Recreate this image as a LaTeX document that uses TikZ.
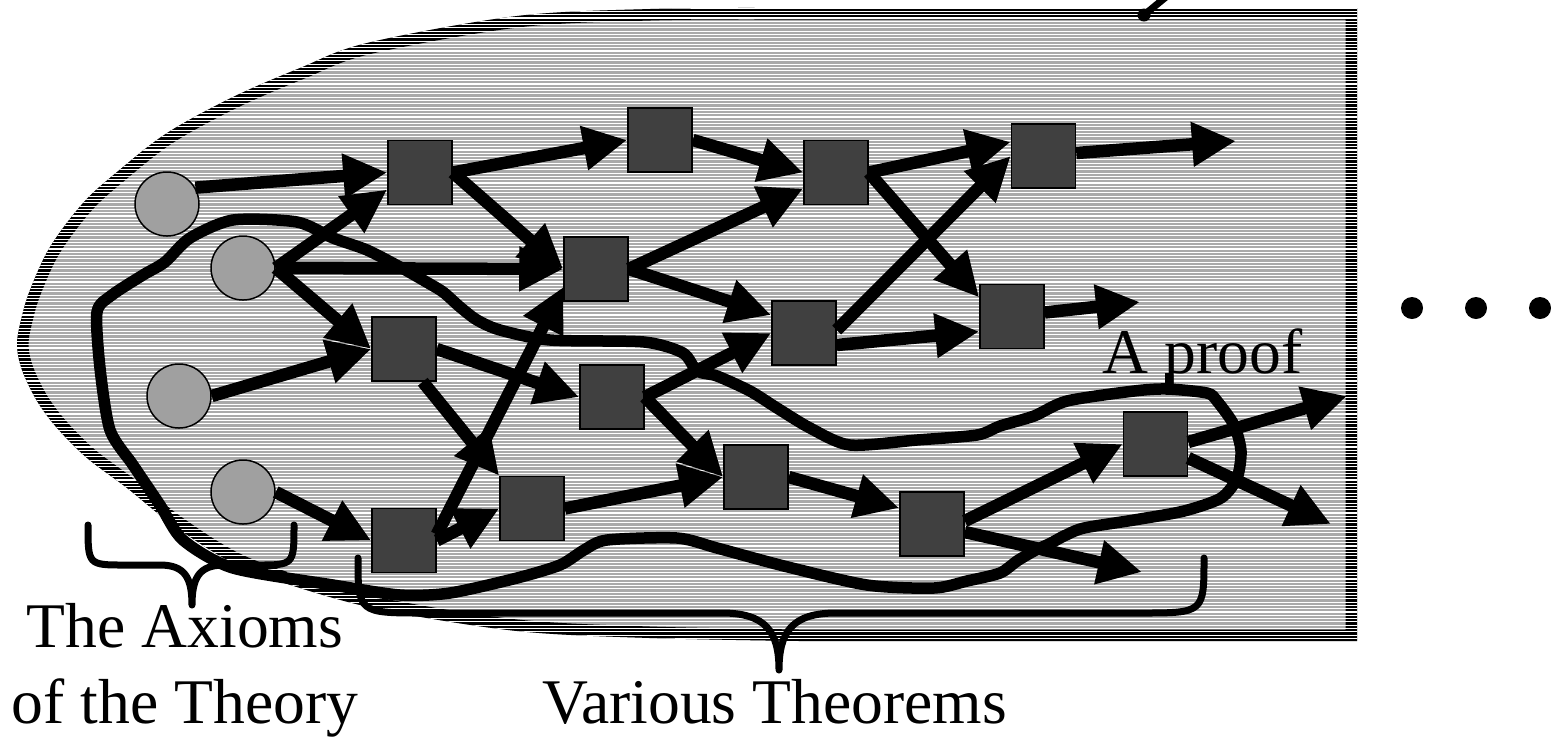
\documentclass[tikz,border=0pt]{standalone}
\usepackage{fontspec}
\setmainfont{Liberation Serif}
\usetikzlibrary{arrows.meta,calc}
\definecolor{bggray}{RGB}{170,170,170}
\definecolor{axgray}{RGB}{160,160,160}
\definecolor{thmgray}{RGB}{64,64,64}
\begin{document}
\begin{tikzpicture}[x=0.5pt,y=-0.5pt,
  axnode/.style={circle,draw=black,line width=0.75pt,fill=axgray,minimum size=32pt,inner sep=0pt},
  thmnode/.style={rectangle,draw=black,line width=0.75pt,fill=thmgray,minimum size=32pt,inner sep=0pt},
  arr/.style={line width=6.25pt,-{Triangle[length=22pt,width=21pt]}},
  proofline/.style={line width=5.75pt,line join=round},
  bracel/.style={line width=3.5pt,line cap=round,line join=round},
  lbl/.style={font=\fontsize{31.8}{38}\selectfont,inner sep=0pt,anchor=base},
  dotn/.style={circle,fill=black,minimum size=11pt,inner sep=0pt}]
\useasboundingbox (0,0) rectangle (1551,736);

% background region with striped border
\begin{scope}
\clip (1357,8) -- plot[smooth,tension=0.55] coordinates {(760,8) (650,9) (517,16) (367,43) (300,68) (233,97) (167,133) (117,172) (83,203) (50,247) (30,290) (21,320) (17,345) (22,370) (37,401) (57,428) (87,458) (127,488) (173,525) (233,563) (300,588) (383,610) (517,631) (650,638) (800,641)} -- (1357,641) -- cycle;
\fill[bggray] (0,0) rectangle (1400,700);
\draw[line width=11.5pt] (1357,8) -- plot[smooth,tension=0.55] coordinates {(760,8) (650,9) (517,16) (367,43) (300,68) (233,97) (167,133) (117,172) (83,203) (50,247) (30,290) (21,320) (17,345) (22,370) (37,401) (57,428) (87,458) (127,488) (173,525) (233,563) (300,588) (383,610) (517,631) (650,638) (800,641)} -- (1357,641) -- cycle;
\foreach \yy in {1.5,4.8,...,648} \draw[white,line width=0.55pt] (0,\yy) -- (1400,\yy);
\end{scope}

% pointer at the top
\coordinate (ptrA) at (1144,15);
\coordinate (ptrB) at (1172,-8);
\draw[line width=3.5pt] (ptrA) -- (ptrB);
\fill (ptrA) circle[radius=6.5];

% axioms
\node[axnode] (C1) at (167,204) {};
\node[axnode] (C2) at (243,268) {};
\node[axnode] (C3) at (179,396) {};
\node[axnode] (C4) at (243,492) {};

% theorems
\node[thmnode] (S1) at (420,172.5) {};
\node[thmnode] (S2) at (596,269) {};
\node[thmnode] (S3) at (404,349) {};
\node[thmnode] (S4) at (612,397) {};
\node[thmnode] (S5) at (660,140) {};
\node[thmnode] (S6) at (836,172.5) {};
\node[thmnode] (S7) at (1043.5,156) {};
\node[thmnode] (S8) at (804,333) {};
\node[thmnode] (S9) at (1012,316.5) {};
\node[thmnode] (S10) at (532,508.5) {};
\node[thmnode] (S11) at (404,540.5) {};
\node[thmnode] (S12) at (756,477) {};
\node[thmnode] (S13) at (932,524) {};
\node[thmnode] (S14) at (1155.5,444) {};

% free ends
\coordinate (F1) at (1236,141);
\coordinate (F2) at (1140,302);
\coordinate (F3) at (1142,572);
\coordinate (F4) at (1347,396);
\coordinate (F5) at (1331,524);

% arrows
\draw[arr] (C1.30) -- (S1.west);
\draw[arr] (C2.east) -- ($(S1.west)+(0,17)$);
\draw[arr] (C2.east) -- (S2.west);
\draw[arr] (C2.east) -- (S3.west);
\draw[arr] (C3.east) -- (S3.west);
\draw[arr] (C4.east) -- (S11.west);
\draw[arr] (S1.east) -- (S5.west);
\draw[arr] (S1.east) -- (S2.west);
\draw[arr] (S5.east) -- (S6.west);
\draw[arr] (S2.east) -- ($(S6.west)+(0,16)$);
\draw[arr] (S2.east) -- ($(S8.west)+(0,-18)$);
\draw[arr] (S6.east) -- ($(S7.west)+(0,-14)$);
\draw[arr] (S6.east) -- ($(S9.west)+(0,-19)$);
\draw[arr] ($(S8.east)+(0,-3)$) -- (S7.west);
\draw[arr] ($(S8.east)+(0,12)$) -- ($(S9.west)+(0,15)$);
\draw[arr] ($(S7.east)+(0,-3)$) -- (F1);
\draw[arr] ($(S9.east)+(0,-4)$) -- (F2);
\draw[arr] (S3.east) -- (S4.west);
\draw[arr] ($(S3.south east)+(-14,0)$) -- (S10.north west);
\draw[arr] ($(S11.east)+(0,-6)$) -- ($(S2.west)+(0,18)$);
\draw[arr] (S11.east) -- (S10.west);
\draw[arr] (S4.east) -- (S8.west);
\draw[arr] (S4.east) -- (S12.west);
\draw[arr] (S10.east) -- (S12.west);
\draw[arr] (S12.east) -- ($(S13.west)+(0,-16)$);
\draw[arr] ($(S13.east)+(0,-3)$) -- (S14.west);
\draw[arr] ($(S13.east)+(0,8)$) -- (F3);
\draw[arr] ($(S14.east)+(0,-2)$) -- (F4);
\draw[arr] ($(S14.east)+(0,14)$) -- (F5);

% the proof loop
\draw[proofline] plot[smooth cycle,tension=0.45] coordinates {(190,238) (233,220) (297,222) (333,238) (367,250) (400,267) (423,280) (443,292) (460,307) (477,320) (500,330) (550,340) (644,342) (683,353) (697,371) (717,376) (750,391) (777,408) (810,428) (850,445) (917,440) (977,435) (1000,426) (1034,416) (1067,401) (1134,391) (1167,389) (1207,393) (1217,401) (1234,425) (1241,451) (1237,478) (1221,498) (1184,511) (1134,520) (1084,528) (1064,536) (1051,543) (1034,551) (1017,561) (1000,573) (967,581) (934,588) (867,585) (784,566) (717,548) (677,538) (607,540) (584,550) (560,565) (517,578) (450,593) (400,595) (333,585) (233,568) (183,540) (160,505) (133,465) (110,430) (100,368) (97,312) (112,295) (143,275) (165,262)};

% label of the proof
\node[lbl] (proof) at (1202.5,373) {A proof};
\coordinate (pfoot) at (1167,373);
\coordinate (pcurve) at (1167,390);
\draw[line width=2.5pt] (pfoot) -- (pcurve);

% braces
\draw[bracel] (88,525) .. controls (88,565) .. (125,565) -- (160,565) .. controls (185,565) and (192,578) .. (192,605) .. controls (192,578) and (199,565) .. (224,565) -- (257,565) .. controls (294,565) .. (294,525);
\draw[bracel] (358,558) .. controls (358,613) .. (425,613) -- (722,613) .. controls (766,613) and (779,632) .. (779,670) .. controls (779,632) and (792,613) .. (836,613) -- (1140,613) .. controls (1204,613) .. (1204,558);

% labels
\node[lbl] (ax1) at (185,647) {The Axioms};
\node[lbl] (ax2) at (185,723) {of the Theory};
\node[lbl] (thm) at (774.5,723) {Various Theorems};

% ellipsis dots
\node[dotn] (d1) at (1412,308) {};
\node[dotn] (d2) at (1476,308) {};
\node[dotn] (d3) at (1540,308) {};
\end{tikzpicture}
\end{document}
